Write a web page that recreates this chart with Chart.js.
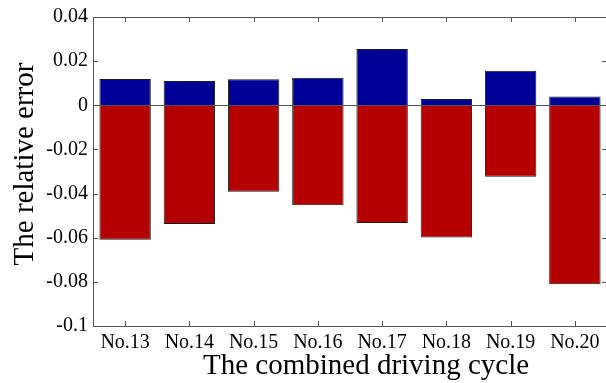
<!DOCTYPE html>
<html>
<head>
<meta charset="utf-8">
<script src="https://cdn.jsdelivr.net/npm/chart.js@4/dist/chart.umd.min.js"></script>
<style>
  html, body { margin: 0; padding: 0; background: #fff; overflow: hidden; }
  #wrap { width: 610px; height: 383px; }
</style>
</head>
<body>
<div id="wrap"><canvas id="graphique" width="610" height="383"></canvas></div>
<script>
// Cycles combinés et erreurs relatives (positives / négatives)
const cycles = ["No.13", "No.14", "No.15", "No.16", "No.17", "No.18", "No.19", "No.20"];
const erreursPositives = [0.0119, 0.0110, 0.0118, 0.0125, 0.0255, 0.0028, 0.0156, 0.0040];
const erreursNegatives = [-0.0609, -0.0538, -0.0392, -0.0453, -0.0533, -0.0599, -0.0324, -0.0811];
const etiquettesY = ["-0.1", "-0.08", "-0.06", "-0.04", "-0.02", "0", "0.02", "0.04"];

const titreX = "The combined driving cycle";
const titreY = "The relative error";

const police = "'Liberation Serif', 'Times New Roman', serif";
const gris = "#555";

// Cadre complet, graduations vers l'intérieur, ligne du zéro et titres des axes
const cadre = {
    id: 'cadre',
    afterDatasetsDraw(chart) {
        const { ctx, chartArea: a, scales: { x, y } } = chart;
        ctx.save();
        ctx.strokeStyle = gris;
        ctx.lineWidth = 1;
        ctx.beginPath();
        const y0 = Math.round(y.getPixelForValue(0)) + 0.5;
        ctx.moveTo(a.left, y0);
        ctx.lineTo(a.right, y0);
        x.ticks.forEach((_, i) => {
            const px = Math.round(x.getPixelForTick(i)) + 0.5;
            ctx.moveTo(px, a.bottom);
            ctx.lineTo(px, a.bottom - 5);
            ctx.moveTo(px, a.top);
            ctx.lineTo(px, a.top + 5);
        });
        y.ticks.forEach((_, i) => {
            const py = Math.round(y.getPixelForTick(i)) + 0.5;
            ctx.moveTo(a.left, py);
            ctx.lineTo(a.left + 5, py);
            ctx.moveTo(a.right, py);
            ctx.lineTo(a.right - 5, py);
        });
        ctx.stroke();
        ctx.strokeRect(Math.round(a.left) + 0.5, Math.round(a.top) + 0.5,
            Math.round(a.width), Math.round(a.height));

        ctx.fillStyle = '#000';
        ctx.textAlign = 'center';
        ctx.textBaseline = 'alphabetic';
        ctx.font = "29px " + police;
        ctx.fillText(titreX, 366, 374);

        ctx.translate(33, 164);
        ctx.rotate(-Math.PI / 2);
        ctx.fillText(titreY, 0, 0);
        ctx.restore();
    }
};

const ctx = document.getElementById("graphique").getContext("2d");
new Chart(ctx, {
    type: 'bar',
    data: {
        labels: cycles,
        datasets: [{
            data: erreursPositives,
            backgroundColor: '#000096',
            borderColor: '#1a1a1a',
            borderWidth: 1,
        }, {
            data: erreursNegatives,
            backgroundColor: '#b40000',
            borderColor: '#1a1a1a',
            borderWidth: 1,
        }],
    },
    options: {
        responsive: false,
        animation: false,
        layout: { padding: { top: 14, right: 3, left: 0, bottom: 0 } },
        datasets: {
            bar: { barPercentage: 0.8, categoryPercentage: 1.0 },
        },
        plugins: {
            legend: { display: false },
            tooltip: { enabled: false },
        },
        scales: {
            x: {
                stacked: true,
                grid: { display: false, drawTicks: false },
                border: { display: false },
                ticks: {
                    color: '#000',
                    font: { family: police, size: 20 },
                    padding: 5,
                    maxRotation: 0,
                    autoSkip: false,
                },
                afterFit(scale) { scale.height = 57; },
            },
            y: {
                stacked: true,
                min: -0.1,
                max: 0.04,
                grid: { display: false, drawTicks: false },
                border: { display: false },
                ticks: {
                    stepSize: 0.02,
                    color: '#000',
                    font: { family: police, size: 20 },
                    padding: 5,
                    callback: (v, i) => etiquettesY[i],
                },
                afterFit(scale) { scale.width = 93; },
            },
        },
    },
    plugins: [cadre],
});
</script>
</body>
</html>
